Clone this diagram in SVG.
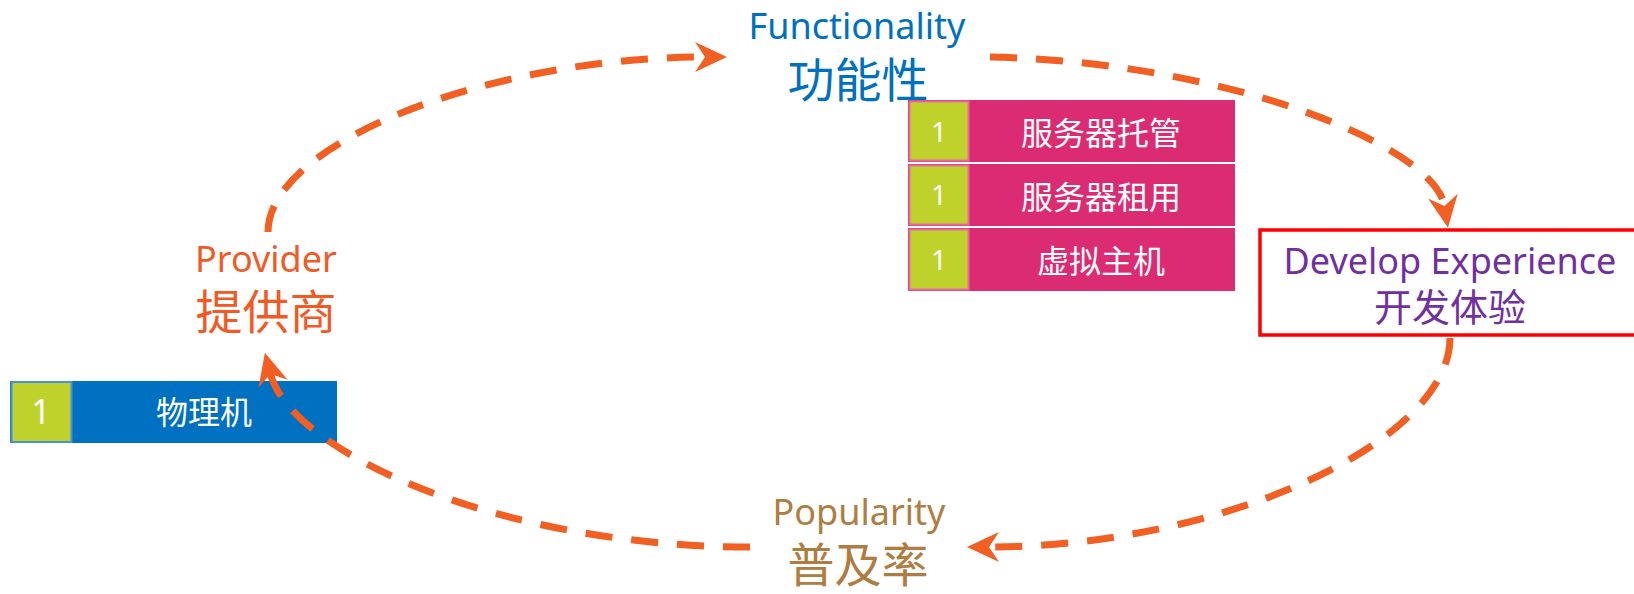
<svg xmlns="http://www.w3.org/2000/svg" width="1634" height="594" viewBox="0 0 1634 594">
  <style>
    .lat { font-family: "Noto Sans", "Noto Sans CJK SC", sans-serif; }
    .cjk { font-family: "Noto Sans", "Noto Sans CJK SC", sans-serif; }
    .title { font-size: 36px; text-anchor: middle; }
    .titlecn { font-size: 47px; text-anchor: middle; }
    .w { fill: #FFFFFF; text-anchor: middle; }
    .green { fill: #BFD22B; }
    .pink { fill: #DB2B72; }
    .flow { fill: none; stroke: #F15F22; stroke-width: 7; stroke-dasharray: 27 19; marker-end: url(#arr); }
  </style>
  <defs>
    <marker id="arr" markerUnits="userSpaceOnUse" markerWidth="36" markerHeight="34" viewBox="-12 -17 36 34" refX="0" refY="0" orient="auto">
      <path d="M22,0 L-10,-15 L0,0 L-10,15 Z" fill="#F15F22"/>
    </marker>
  </defs>
  <rect width="1634" height="594" fill="#FFFFFF"/>

  <g id="provider">
    <text class="lat title" x="266" y="272" fill="#F15A24">Provider</text>
    <text class="cjk titlecn" x="266" y="329" fill="#F15A24">提供商</text>
  </g>

  <g id="functionality">
    <text class="lat title" x="857" y="39" fill="#0070C0">Functionality</text>
    <text class="cjk titlecn" x="858" y="97" fill="#0070C0">功能性</text>
  </g>

  <g id="popularity">
    <text class="lat title" x="859" y="525" fill="#AF7C41">Popularity</text>
    <text class="cjk titlecn" x="858" y="582" fill="#AF7C41">普及率</text>
  </g>

  <g id="develop-experience">
    <rect x="1260" y="230" width="380" height="105" fill="#FFFFFF" stroke="#FF0000" stroke-width="3.5"/>
    <text class="lat title" x="1450" y="274" fill="#7030A0">Develop Experience</text>
    <text class="cjk" x="1450" y="321" font-size="38" text-anchor="middle" fill="#7030A0">开发体验</text>
  </g>

  <g id="physical-machine">
    <rect x="10" y="381" width="327" height="62" fill="#0070C0"/>
    <rect x="11.5" y="382" width="60" height="60" class="green" stroke="#4A90D9" stroke-width="2"/>
    <text class="lat w" x="41" y="424" font-size="34">1</text>
    <text class="cjk w" x="204" y="424" font-size="32">物理机</text>
  </g>

  <g id="server-hosting">
    <rect x="908" y="100" width="327" height="62" class="pink"/>
    <rect x="909.5" y="101.5" width="59" height="59" class="green" stroke="#E86A9C" stroke-width="2"/>
    <text class="lat w" x="939" y="142" font-size="28">1</text>
    <text class="cjk w" x="1101" y="145" font-size="32">服务器托管</text>
  </g>

  <g id="server-rental">
    <rect x="908" y="164" width="327" height="62" class="pink"/>
    <rect x="909.5" y="165.5" width="59" height="59" class="green" stroke="#E86A9C" stroke-width="2"/>
    <text class="lat w" x="939" y="205" font-size="28">1</text>
    <text class="cjk w" x="1101" y="209" font-size="32">服务器租用</text>
  </g>

  <g id="virtual-host">
    <rect x="908" y="228" width="327" height="63" class="pink"/>
    <rect x="909.5" y="229.5" width="59" height="60" class="green" stroke="#E86A9C" stroke-width="2"/>
    <text class="lat w" x="939" y="270" font-size="28">1</text>
    <text class="cjk w" x="1101" y="273" font-size="32">虚拟主机</text>
  </g>

  <g id="connectors">
    <path class="flow" d="M268,232 C268,143 490,57 705,57"/>
    <path class="flow" d="M990,57 C1230,62 1435,147 1444.5,206"/>
    <path class="flow" d="M1450,338 C1450,443 1219,547 989,547"/>
    <path class="flow" d="M750,547 C500,547 291,452 270.5,374"/>
  </g>
</svg>
